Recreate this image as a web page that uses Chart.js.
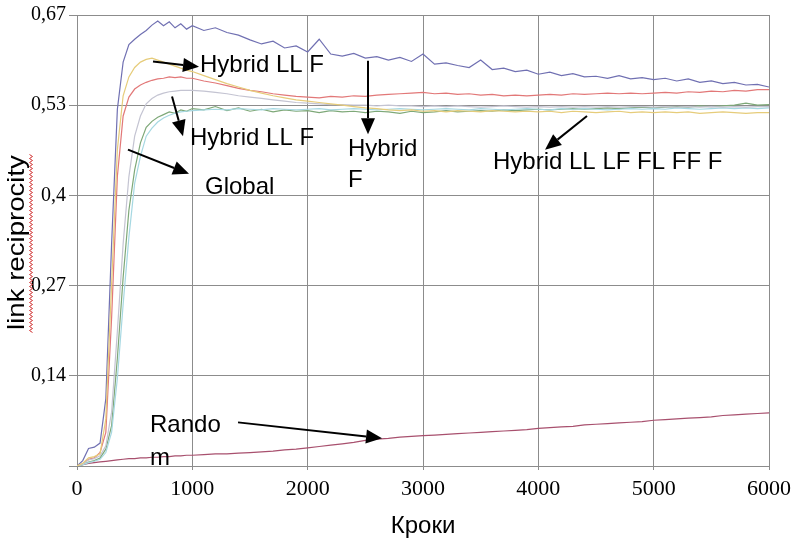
<!DOCTYPE html>
<html>
<head>
<meta charset="utf-8">
<script src="https://cdn.jsdelivr.net/npm/chart.js@4.4.0/dist/chart.umd.min.js"></script>
<style>
  html, body { margin: 0; padding: 0; background: #fff; }
</style>
</head>
<body>
<canvas id="chart" width="808" height="545"></canvas>
<script>
// steps on the x axis (finer sampling where the curves climb)
const steps = [0, 50, 100, 150, 200, 250, 300, 350, 400, 450, 500, 550, 600, 650, 700, 750, 800, 850, 900, 950,
  1000, 1100, 1200, 1300, 1400, 1500, 1600, 1700, 1800, 1900, 2000, 2100, 2200, 2300, 2400, 2500,
  2600, 2700, 2800, 2900, 3000, 3100, 3200, 3300, 3400, 3500, 3600, 3700, 3800, 3900, 4000,
  4100, 4200, 4300, 4400, 4500, 4600, 4700, 4800, 4900, 5000, 5100, 5200, 5300, 5400, 5500,
  5600, 5700, 5800, 5900, 6000];

const purpleVals = [0, 0.008, 0.026, 0.028, 0.034, 0.10, 0.33, 0.53, 0.600, 0.626, 0.634, 0.641, 0.647, 0.655, 0.661, 0.654, 0.660, 0.651, 0.657, 0.649,
  0.654, 0.647, 0.651, 0.644, 0.640, 0.633, 0.627, 0.631, 0.621, 0.624, 0.615, 0.634, 0.612, 0.609, 0.613, 0.606,
  0.608, 0.603, 0.607, 0.601, 0.612, 0.597, 0.599, 0.595, 0.592, 0.603, 0.589, 0.591, 0.586, 0.588, 0.582,
  0.585, 0.580, 0.583, 0.578, 0.579, 0.576, 0.580, 0.575, 0.577, 0.574, 0.576, 0.572, 0.575, 0.570, 0.572,
  0.568, 0.570, 0.566, 0.567, 0.563];

const redVals = [0, 0.003, 0.010, 0.012, 0.020, 0.05, 0.22, 0.43, 0.52, 0.548, 0.560, 0.566, 0.570, 0.573, 0.575, 0.576, 0.578, 0.577, 0.578, 0.576,
  0.576, 0.572, 0.569, 0.565, 0.561, 0.558, 0.556, 0.553, 0.551, 0.549, 0.548, 0.547, 0.549, 0.548, 0.550, 0.549,
  0.551, 0.552, 0.553, 0.554, 0.555, 0.553, 0.554, 0.552, 0.553, 0.551, 0.552, 0.550, 0.551, 0.550, 0.551,
  0.552, 0.551, 0.553, 0.552, 0.553, 0.554, 0.553, 0.554, 0.553, 0.554, 0.555, 0.554, 0.556, 0.555, 0.557,
  0.556, 0.558, 0.557, 0.559, 0.559];

const yellowVals = [0, 0.004, 0.012, 0.014, 0.018, 0.07, 0.27, 0.47, 0.55, 0.578, 0.592, 0.600, 0.604, 0.606, 0.603, 0.600, 0.597, 0.594, 0.591, 0.588,
  0.586, 0.580, 0.574, 0.568, 0.563, 0.558, 0.554, 0.550, 0.547, 0.544, 0.542, 0.540, 0.538, 0.536, 0.534, 0.532,
  0.531, 0.529, 0.528, 0.529, 0.527, 0.528, 0.526, 0.528, 0.527, 0.526, 0.528, 0.527, 0.526, 0.527, 0.526,
  0.527, 0.525, 0.527, 0.526, 0.525, 0.526, 0.527, 0.525, 0.526, 0.525, 0.526, 0.525, 0.526, 0.524, 0.525,
  0.526, 0.525, 0.524, 0.525, 0.525];

const greenVals = [0, 0.002, 0.006, 0.008, 0.012, 0.025, 0.06, 0.16, 0.28, 0.38, 0.44, 0.48, 0.503, 0.512, 0.518, 0.522, 0.526, 0.524, 0.529, 0.527,
  0.531, 0.529, 0.534, 0.528, 0.532, 0.527, 0.530, 0.526, 0.529, 0.527, 0.528, 0.525, 0.528, 0.526, 0.527, 0.525,
  0.527, 0.526, 0.524, 0.527, 0.525, 0.526, 0.528, 0.526, 0.527, 0.528, 0.527, 0.529, 0.528, 0.529, 0.530,
  0.529, 0.530, 0.531, 0.530, 0.531, 0.532, 0.531, 0.532, 0.533, 0.532, 0.533, 0.534, 0.533, 0.535, 0.534,
  0.535, 0.536, 0.539, 0.536, 0.537];

const grayVals = [0, 0.003, 0.009, 0.011, 0.015, 0.03, 0.08, 0.20, 0.33, 0.43, 0.49, 0.52, 0.538, 0.546, 0.551, 0.554, 0.556, 0.557, 0.558, 0.558,
  0.558, 0.557, 0.555, 0.553, 0.550, 0.548, 0.546, 0.544, 0.542, 0.540, 0.539, 0.538, 0.537, 0.537, 0.536, 0.536,
  0.535, 0.536, 0.535, 0.535, 0.534, 0.535, 0.534, 0.535, 0.534, 0.533, 0.534, 0.535, 0.534, 0.533, 0.534,
  0.533, 0.534, 0.533, 0.534, 0.533, 0.534, 0.533, 0.534, 0.534, 0.533, 0.534, 0.533, 0.534, 0.533, 0.534,
  0.533, 0.534, 0.533, 0.534, 0.534];

const cyanVals = [0, 0.002, 0.005, 0.007, 0.010, 0.02, 0.05, 0.13, 0.24, 0.34, 0.42, 0.46, 0.49, 0.502, 0.511, 0.517, 0.521, 0.524, 0.526, 0.527,
  0.528, 0.529, 0.530, 0.529, 0.531, 0.530, 0.529, 0.531, 0.530, 0.529, 0.530, 0.531, 0.529, 0.530, 0.531, 0.530,
  0.529, 0.530, 0.531, 0.530, 0.529, 0.530, 0.531, 0.530, 0.529, 0.531, 0.530, 0.529, 0.530, 0.531, 0.530,
  0.529, 0.531, 0.530, 0.531, 0.530, 0.529, 0.530, 0.531, 0.530, 0.531, 0.530, 0.532, 0.531, 0.530, 0.531,
  0.532, 0.531, 0.532, 0.531, 0.532];

const randomVals = [0, 0.002, 0.004, 0.005, 0.006, 0.007, 0.008, 0.009, 0.010, 0.011, 0.011, 0.012, 0.012, 0.013, 0.013, 0.014, 0.014, 0.015, 0.015, 0.016,
  0.016, 0.017, 0.018, 0.018, 0.019, 0.020, 0.021, 0.022, 0.024, 0.025, 0.027, 0.029, 0.031, 0.033, 0.035, 0.038,
  0.040, 0.041, 0.043, 0.044, 0.045, 0.046, 0.047, 0.048, 0.049, 0.050, 0.051, 0.052, 0.053, 0.054, 0.056,
  0.057, 0.058, 0.059, 0.061, 0.062, 0.063, 0.064, 0.065, 0.066, 0.068, 0.069, 0.070, 0.071, 0.072, 0.073,
  0.075, 0.076, 0.077, 0.078, 0.079];

const yTickValues = [0, 0.134, 0.268, 0.402, 0.536, 0.67];
const yTickLabels = ['', '0,14', '0,27', '0,4', '0,53', '0,67'];

// text labels and arrows, in data units
const notes = [
  { text: 'Hybrid LL F', x: 1066, y: 0.595 },
  { text: 'Hybrid LL F', x: 980, y: 0.487 },
  { text: 'Global', x: 1110, y: 0.414 },
  { text: 'Hybrid', x: 2350, y: 0.470 },
  { text: 'F', x: 2350, y: 0.424 },
  { text: 'Hybrid LL LF FL FF F', x: 3607, y: 0.451 },
  { text: 'Rando', x: 633, y: 0.0604 },
  { text: 'm', x: 633, y: 0.0118 },
];
const arrows = [
  { x1: 659, y1: 0.601, x2: 1058, y2: 0.593 },
  { x1: 824, y1: 0.549, x2: 919, y2: 0.490 },
  { x1: 442, y1: 0.470, x2: 971, y2: 0.434 },
  { x1: 2523, y1: 0.602, x2: 2523, y2: 0.493 },
  { x1: 4422, y1: 0.520, x2: 4058, y2: 0.470 },
  { x1: 1396, y1: 0.0648, x2: 2645, y2: 0.0412 },
];

function makeSet(vals, color) {
  return {
    data: steps.map((x, i) => ({ x, y: vals[i] })),
    borderColor: color,
    borderWidth: 1.2,
    pointRadius: 0,
    tension: 0,
    fill: false,
  };
}

const gridColor = '#8c8c8c';

const extrasPlugin = {
  id: 'extras',
  afterDraw(chart) {
    const ctx = chart.ctx;
    const xs = chart.scales.x;
    const ys = chart.scales.y;
    ctx.save();
    ctx.fillStyle = '#000';
    ctx.strokeStyle = '#000';
    ctx.font = '24px "Liberation Sans", Arial, sans-serif';
    ctx.textAlign = 'left';
    ctx.textBaseline = 'middle';
    notes.forEach((n) => {
      ctx.fillText(n.text, xs.getPixelForValue(n.x), ys.getPixelForValue(n.y));
    });
    ctx.lineWidth = 2;
    arrows.forEach((a) => {
      const x1 = xs.getPixelForValue(a.x1);
      const y1 = ys.getPixelForValue(a.y1);
      const x2 = xs.getPixelForValue(a.x2);
      const y2 = ys.getPixelForValue(a.y2);
      const ang = Math.atan2(y2 - y1, x2 - x1);
      const len = 16;
      const half = 7;
      const bx = x2 - len * Math.cos(ang);
      const by = y2 - len * Math.sin(ang);
      ctx.beginPath();
      ctx.moveTo(x1, y1);
      ctx.lineTo(bx, by);
      ctx.stroke();
      ctx.beginPath();
      ctx.moveTo(x2, y2);
      ctx.lineTo(bx + half * Math.sin(ang), by - half * Math.cos(ang));
      ctx.lineTo(bx - half * Math.sin(ang), by + half * Math.cos(ang));
      ctx.closePath();
      ctx.fill();
    });

    // y axis title, drawn by hand so it can be stretched like the original
    const cy = (chart.chartArea.top + chart.chartArea.bottom) / 2 + 2;
    ctx.save();
    ctx.translate(17, cy);
    ctx.rotate(-Math.PI / 2);
    ctx.scale(1.15, 1);
    ctx.textAlign = 'center';
    ctx.textBaseline = 'middle';
    ctx.font = '24px "Liberation Sans", Arial, sans-serif';
    ctx.fillText('link reciprocity', 0, 0);
    ctx.restore();

    // red squiggle under the title
    ctx.strokeStyle = '#d03030';
    ctx.lineWidth = 1;
    ctx.beginPath();
    let flip = 0;
    for (let y = cy - 88; y <= cy + 90; y += 2) {
      const x = 31 + (flip ? 1.5 : -1.5);
      if (y === cy - 88) ctx.moveTo(x, y); else ctx.lineTo(x, y);
      flip = 1 - flip;
    }
    ctx.stroke();
    ctx.restore();
  },
};

new Chart(document.getElementById('chart'), {
  type: 'line',
  data: {
    datasets: [
      makeSet(yellowVals, '#e6cc7a'),
      makeSet(grayVals, '#c4c4d2'),
      makeSet(cyanVals, '#a6d8e2'),
      makeSet(greenVals, '#7ea878'),
      makeSet(redVals, '#e27878'),
      makeSet(purpleVals, '#7070b2'),
      makeSet(randomVals, '#a8506e'),
    ],
  },
  options: {
    responsive: false,
    animation: false,
    layout: { padding: { top: 11, right: 39, left: 0, bottom: 0 } },
    plugins: {
      legend: { display: false },
      tooltip: { enabled: false },
    },
    scales: {
      x: {
        type: 'linear',
        min: 0,
        max: 6000,
        ticks: {
          stepSize: 1000,
          color: '#000',
          padding: 6,
          font: { family: '"Liberation Serif", "Times New Roman", serif', size: 22 },
          callback(value) { return String(value); },
        },
        grid: { color: gridColor, tickLength: 4 },
        border: { color: gridColor },
        title: {
          display: true,
          text: 'Кроки',
          color: '#000',
          padding: { top: 10 },
          font: { family: '"Liberation Sans", Arial, sans-serif', size: 24 },
        },
        afterFit(scale) { scale.height = 79; },
      },
      y: {
        type: 'linear',
        min: 0,
        max: 0.67,
        afterBuildTicks(scale) {
          scale.ticks = yTickValues.map((v) => ({ value: v }));
        },
        ticks: {
          color: '#000',
          padding: 3,
          font: { family: '"Liberation Serif", "Times New Roman", serif', size: 20 },
          callback(value, index) { return yTickLabels[index]; },
        },
        grid: { color: gridColor, tickLength: 8 },
        border: { color: gridColor },
        afterFit(scale) { scale.width = 77; },
      },
    },
  },
  plugins: [extrasPlugin],
});
</script>
</body>
</html>
